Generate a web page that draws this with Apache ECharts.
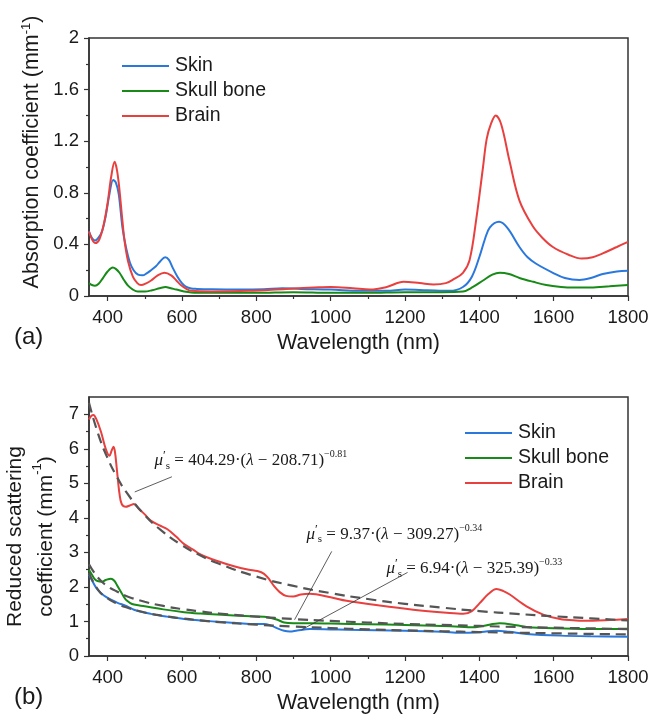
<!DOCTYPE html>
<html>
<head>
<meta charset="utf-8">
<script src="https://cdn.jsdelivr.net/npm/echarts@6.0.0/dist/echarts.min.js"></script>
<style>
  html, body { margin: 0; padding: 0; background: #fff; }
  #chart { width: 654px; height: 719px; }
</style>
</head>
<body>
<div id="chart"></div>
<script>
// ---- (a) absorption coefficient, mm^-1 ----
const skinAbsWl = [350,358,366,375,385,395,405,415,422,430,440,450,460,470,482,494,505,517,530,542,555,565,575,588,600,612,625,640,680,750,820,870,920,1000,1080,1150,1200,1260,1320,1356,1380,1401,1415,1428,1453,1475,1508,1530,1553,1598,1630,1670,1700,1732,1770,1800];
const skinAbsVal = [0.50,0.45,0.43,0.45,0.50,0.62,0.79,0.90,0.88,0.79,0.53,0.37,0.26,0.20,0.165,0.16,0.175,0.20,0.23,0.27,0.30,0.28,0.22,0.15,0.10,0.07,0.058,0.055,0.052,0.05,0.052,0.06,0.055,0.05,0.04,0.04,0.05,0.045,0.04,0.07,0.15,0.31,0.44,0.53,0.575,0.53,0.38,0.30,0.25,0.18,0.14,0.125,0.14,0.17,0.19,0.196];

const skullAbsWl = [350,358,366,376,387,400,414,422,432,445,455,468,481,500,520,540,556,570,585,606,640,800,900,1000,1100,1200,1300,1356,1383,1410,1435,1455,1480,1508,1545,1580,1620,1652,1700,1750,1800];
const skullAbsVal = [0.10,0.085,0.08,0.095,0.137,0.19,0.22,0.21,0.18,0.12,0.08,0.05,0.035,0.035,0.045,0.06,0.07,0.06,0.05,0.035,0.025,0.025,0.03,0.025,0.025,0.03,0.03,0.035,0.07,0.12,0.165,0.18,0.17,0.14,0.11,0.085,0.07,0.065,0.066,0.075,0.085];

const brainAbsWl = [350,358,367,378,390,400,410,419,425,431,440,446,455,468,480,490,505,517,535,553,571,585,597,612,625,680,780,880,970,1000,1060,1106,1151,1196,1240,1277,1310,1331,1356,1374,1392,1410,1420,1432,1444,1459,1481,1508,1544,1570,1598,1640,1675,1705,1732,1770,1800];
const brainAbsVal = [0.50,0.44,0.41,0.44,0.56,0.72,0.93,1.04,0.98,0.85,0.58,0.42,0.27,0.15,0.10,0.085,0.10,0.12,0.16,0.18,0.16,0.12,0.085,0.055,0.04,0.035,0.04,0.055,0.067,0.07,0.06,0.05,0.07,0.11,0.10,0.09,0.10,0.13,0.18,0.28,0.60,1.00,1.22,1.34,1.40,1.33,1.05,0.74,0.54,0.45,0.38,0.32,0.29,0.30,0.33,0.38,0.42];

// ---- (b) reduced scattering coefficient, mm^-1 ----
const skinScaWl = [350,360,373,390,409,427,450,471,516,560,606,650,695,740,785,821,840,857,875,890,910,944,1000,1043,1200,1300,1350,1390,1446,1480,1527,1617,1700,1800];
const skinScaVal = [2.36,2.15,1.92,1.75,1.63,1.54,1.45,1.34,1.22,1.14,1.07,1.03,0.99,0.96,0.93,0.93,0.88,0.80,0.73,0.71,0.74,0.78,0.77,0.76,0.73,0.70,0.67,0.68,0.73,0.70,0.64,0.59,0.57,0.56];

const skullScaWl = [350,358,366,373,385,395,409,418,427,438,449,460,471,500,550,606,650,695,785,821,840,857,875,900,950,1000,1100,1200,1300,1347,1380,1410,1455,1500,1527,1600,1700,1800];
const skullScaVal = [2.50,2.35,2.22,2.17,2.15,2.20,2.24,2.18,2.02,1.82,1.63,1.54,1.49,1.44,1.35,1.27,1.23,1.20,1.15,1.14,1.10,1.05,0.97,0.95,0.95,0.94,0.92,0.90,0.87,0.85,0.83,0.87,0.95,0.89,0.84,0.80,0.78,0.79];

const brainScaWl = [350,356,362,370,382,395,405,411,416,420,425,432,438,449,460,471,485,500,516,540,561,585,606,630,650,695,740,780,803,821,835,848,863,880,899,920,944,1000,1043,1132,1222,1312,1357,1380,1401,1425,1446,1465,1482,1527,1572,1617,1660,1706,1750,1800];
const brainScaVal = [6.85,6.95,6.98,6.85,6.50,6.00,5.80,5.95,6.06,5.90,5.40,4.70,4.40,4.32,4.36,4.40,4.25,4.10,3.92,3.78,3.67,3.45,3.24,3.08,2.94,2.75,2.60,2.50,2.46,2.38,2.22,2.02,1.85,1.74,1.72,1.78,1.80,1.70,1.60,1.46,1.34,1.25,1.22,1.30,1.53,1.80,1.94,1.88,1.78,1.44,1.20,1.07,1.03,1.02,1.04,1.07];

// dashed power-law fits as drawn
const fitWl = [350,375,400,425,450,500,550,600,650,700,800,900,1000,1100,1200,1300,1400,1500,1600,1700,1800];
const brainFitVal = [7.33,6.42,5.73,5.19,4.75,4.08,3.59,3.21,2.91,2.67,2.30,2.03,1.82,1.65,1.51,1.40,1.30,1.22,1.15,1.09,1.03];
const skullFitVal = [2.66,2.26,2.02,1.87,1.74,1.57,1.45,1.36,1.29,1.23,1.14,1.07,1.015,0.97,0.93,0.90,0.87,0.84,0.82,0.80,0.78];
const skinFitVal = [2.41,1.91,1.67,1.52,1.41,1.26,1.16,1.088,1.03,0.98,0.908,0.853,0.81,0.77,0.742,0.716,0.693,0.674,0.656,0.64,0.625];

// axis ticks
const xMajor = [400,600,800,1000,1200,1400,1600,1800];
const xMinor = [500,700,900,1100,1300,1500,1700];
const yMajorA = [0,0.4,0.8,1.2,1.6,2];
const yMinorA = [0.2,0.6,1.0,1.4,1.8];
const yMajorB = [0,1,2,3,4,5,6,7];
const yMinorB = [0.5,1.5,2.5,3.5,4.5,5.5,6.5];

const seriesNames = ['Skin', 'Skull bone', 'Brain'];
const colors = ['#2a78dc', '#178a17', '#e8403f'];

const FONT = 'Liberation Sans, Arial, sans-serif';
const SERIF = 'Liberation Serif, Times New Roman, serif';
const INK = '#1a1a1a';
const AXIS = '#333';

const chart = echarts.init(document.getElementById('chart'));

function pairs(xs, ys) {
  return xs.map((x, i) => [x, ys[i]]);
}

function plain(v) {
  return String(v);
}

function xAxes(gridIndex) {
  return [
    {
      type: 'value', gridIndex: gridIndex, min: 350, max: 1800, position: 'bottom',
      name: 'Wavelength (nm)', nameLocation: 'middle', nameGap: 36, nameMoveOverlap: false,
      nameTextStyle: { fontFamily: FONT, fontSize: 21.5, color: INK },
      axisLine: { show: true, lineStyle: { color: AXIS, width: 1.5 } },
      axisTick: { show: true, customValues: xMajor, length: 5, lineStyle: { color: AXIS, width: 1.2 } },
      axisLabel: { customValues: xMajor, formatter: plain, margin: 12, fontFamily: FONT, fontSize: 18.5, color: INK },
      splitLine: { show: false }
    },
    {
      type: 'value', gridIndex: gridIndex, min: 350, max: 1800, position: 'bottom',
      axisLine: { show: false },
      axisTick: { show: true, customValues: xMinor, length: 3, lineStyle: { color: AXIS, width: 1.2 } },
      axisLabel: { show: false },
      splitLine: { show: false }
    }
  ];
}

function yAxes(gridIndex, max, major, minor, name, nameGap, fontSize, lineHeight, pad) {
  return [
    {
      type: 'value', gridIndex: gridIndex, min: 0, max: max, position: 'left',
      name: name, nameLocation: 'middle', nameGap: nameGap, nameMoveOverlap: false,
      nameTextStyle: {
        fontFamily: FONT, fontSize: fontSize, color: INK, lineHeight: lineHeight, align: 'center', padding: pad,
        rich: { sup: { fontFamily: FONT, fontSize: 13, color: INK, verticalAlign: 'top', lineHeight: lineHeight } }
      },
      axisLine: { show: true, lineStyle: { color: AXIS, width: 1.5 } },
      axisTick: { show: true, customValues: major, length: 5, lineStyle: { color: AXIS, width: 1.2 } },
      axisLabel: { customValues: major, formatter: plain, margin: 10, fontFamily: FONT, fontSize: 18.5, color: INK },
      splitLine: { show: false }
    },
    {
      type: 'value', gridIndex: gridIndex, min: 0, max: max, position: 'left',
      axisLine: { show: false },
      axisTick: { show: true, customValues: minor, length: 3, lineStyle: { color: AXIS, width: 1.2 } },
      axisLabel: { show: false },
      splitLine: { show: false }
    }
  ];
}

function curve(name, color, data, axisIdx) {
  return {
    name: name, type: 'line', xAxisIndex: axisIdx, yAxisIndex: axisIdx,
    data: data, symbol: 'none', smooth: 0.35,
    lineStyle: { color: color, width: 2 }, itemStyle: { color: color }, z: 3
  };
}

function fit(data, axisIdx) {
  return {
    name: 'fit', type: 'line', xAxisIndex: axisIdx, yAxisIndex: axisIdx,
    data: data, symbol: 'none', smooth: 0.5,
    lineStyle: { color: '#555', width: 2.2, type: [10, 6] }, z: 4
  };
}

function legend(left, top) {
  return {
    left: left, top: top, orient: 'vertical', data: seriesNames,
    icon: 'rect', itemWidth: 47, itemHeight: 2, itemGap: 5, selectedMode: false,
    textStyle: { fontFamily: FONT, fontSize: 19.5, color: INK, lineHeight: 20, padding: [0, 0, 0, 1] }
  };
}

const gridBase = {
  left: 89, right: 26, show: true, borderColor: AXIS, borderWidth: 1.5,
  backgroundColor: 'transparent', outerBoundsMode: 'none', containLabel: false
};

const option = {
  animation: false,
  backgroundColor: '#fff',
  grid: [
    Object.assign({ top: 38, height: 258 }, gridBase),
    Object.assign({ top: 397, height: 259 }, gridBase)
  ],
  legend: [legend(117, 51), legend(460, 418)],
  xAxis: xAxes(0).concat(xAxes(1)),
  yAxis: yAxes(0, 2, yMajorA, yMinorA, 'Absorption coefficient (mm{sup|-1})', 45, 21.5, 24, [0, 0, 0, 30])
    .concat(yAxes(1, 7.5, yMajorB, yMinorB, 'Reduced scattering\ncoefficient (mm{sup|-1})', 27, 21, 31, [0, 20, 0, 0])),
  series: [
    curve('Skin', colors[0], pairs(skinAbsWl, skinAbsVal), 0),
    curve('Skull bone', colors[1], pairs(skullAbsWl, skullAbsVal), 0),
    curve('Brain', colors[2], pairs(brainAbsWl, brainAbsVal), 0),
    curve('Skin', colors[0], pairs(skinScaWl, skinScaVal), 2),
    curve('Skull bone', colors[1], pairs(skullScaWl, skullScaVal), 2),
    curve('Brain', colors[2], pairs(brainScaWl, brainScaVal), 2),
    fit(pairs(fitWl, brainFitVal), 2),
    fit(pairs(fitWl, skullFitVal), 2),
    fit(pairs(fitWl, skinFitVal), 2)
  ]
};
chart.setOption(option);

// formula annotations, anchored in data space of panel (b)
const formulaRich = {
  i: { fontFamily: SERIF, fontStyle: 'italic', fontSize: 17, fill: INK, lineHeight: 22 },
  p: { fontFamily: SERIF, fontSize: 13, fill: INK, verticalAlign: 'top', lineHeight: 22 },
  s: { fontFamily: SERIF, fontSize: 11, fill: INK, verticalAlign: 'bottom', lineHeight: 22 },
  n: { fontFamily: SERIF, fontSize: 17, fill: INK, lineHeight: 22 },
  e: { fontFamily: SERIF, fontSize: 10, fill: INK, verticalAlign: 'top', lineHeight: 22 }
};
const formulas = [
  { at: [526, 5.66], text: '{i|μ}{p|′}{s|s}{n| = 404.29·(}{i|λ}{n| − 208.71)}{e|−0.81}' },
  { at: [935, 3.53], text: '{i|μ}{p|′}{s|s}{n| = 9.37·(}{i|λ}{n| − 309.27)}{e|−0.34}' },
  { at: [1150, 2.54], text: '{i|μ}{p|′}{s|s}{n| = 6.94·(}{i|λ}{n| − 325.39)}{e|−0.33}' }
];
const leaders = [
  [[573, 5.19], [473, 4.75]],
  [[1003, 3.03], [903, 1.05]],
  [[1207, 2.42], [922, 0.76]]
];

function px(p) {
  return chart.convertToPixel({ gridIndex: 1 }, p);
}

const graphics = [
  { type: 'text', x: 14, y: 337, style: { text: '(a)', fontFamily: FONT, fontSize: 24, fill: INK, verticalAlign: 'middle' } },
  { type: 'text', x: 14, y: 697, style: { text: '(b)', fontFamily: FONT, fontSize: 24, fill: INK, verticalAlign: 'middle' } }
];
formulas.forEach(function (f) {
  const p = px(f.at);
  graphics.push({
    type: 'text', x: p[0], y: p[1], z: 10,
    style: { text: f.text, rich: formulaRich, verticalAlign: 'middle', align: 'left' }
  });
});
leaders.forEach(function (l) {
  const a = px(l[0]), b = px(l[1]);
  graphics.push({
    type: 'line', z: 10,
    shape: { x1: a[0], y1: a[1], x2: b[0], y2: b[1] },
    style: { stroke: '#333', lineWidth: 0.8 }
  });
});
chart.setOption({ graphic: graphics });
</script>
</body>
</html>
